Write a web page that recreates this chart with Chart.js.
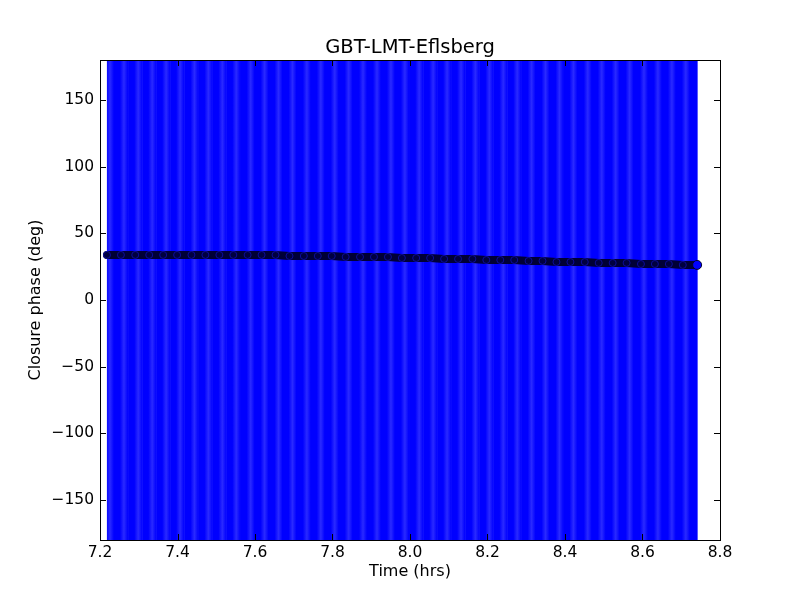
<!DOCTYPE html>
<html>
<head>
<meta charset="utf-8">
<script src="https://cdn.jsdelivr.net/npm/chart.js@4.4.0/dist/chart.umd.min.js"></script>
<style>
  html, body { margin: 0; padding: 0; background: #fff; }
  #wrap { width: 800px; height: 600px; }
</style>
</head>
<body>
<div id="wrap"><canvas id="cphase" width="800" height="600"></canvas></div>
<script>
// time of each closure phase point (hrs)
const times = [
  7.218, 7.254, 7.291, 7.327, 7.363, 7.399, 7.436, 7.472, 7.508, 7.544,
  7.581, 7.617, 7.653, 7.689, 7.726, 7.762, 7.798, 7.834, 7.871, 7.907,
  7.943, 7.979, 8.016, 8.052, 8.088, 8.124, 8.161, 8.197, 8.233, 8.269,
  8.306, 8.342, 8.378, 8.414, 8.451, 8.487, 8.523, 8.559, 8.596, 8.632,
  8.668, 8.704, 8.741
];
// closure phase (deg)
const phases = [
  33.8, 33.8, 33.8, 33.8, 33.8, 33.8, 33.8, 33.8, 33.8, 33.8,
  33.8, 33.8, 33.8, 33.0, 33.0, 33.0, 33.0, 32.3, 32.3, 32.3,
  32.3, 31.5, 31.5, 31.5, 30.8, 30.8, 30.8, 30.0, 30.0, 30.0,
  29.3, 29.3, 28.5, 28.5, 28.5, 27.8, 27.8, 27.8, 27.0, 27.0,
  27.0, 26.3, 26.3
];
// 1-sigma errors (deg) -- all far bigger than the plot range
const errors = [
  310, 305, 300, 320, 315, 300, 310, 305, 320, 300,
  310, 315, 305, 300, 320, 310, 305, 300, 315, 310,
  320, 305, 300, 310, 315, 305, 300, 320, 310, 305,
  300, 315, 310, 305, 320, 300, 310, 305, 315, 300,
  310, 320, 305
];

const xTicks = [7.2, 7.4, 7.6, 7.8, 8.0, 8.2, 8.4, 8.6, 8.8];
const yTicks = [-150, -100, -50, 0, 50, 100, 150];

const FONT = 'DejaVu Sans';
const TITLE = 'GBT-LMT-Eflsberg';

// error bars drawn below the markers
const errorBars = {
  id: 'errorBars',
  beforeDatasetsDraw(chart) {
    const ctx = chart.ctx;
    const xs = chart.scales.x, ys = chart.scales.y;
    const area = chart.chartArea;
    ctx.save();
    ctx.beginPath();
    ctx.rect(area.left, area.top, area.right - area.left, area.bottom - area.top);
    ctx.clip();
    const px = times.map(t => xs.getPixelForValue(t));
    for (let i = 0; i < times.length; i++) {
      const l = i === 0 ? px[i] : (px[i - 1] + px[i]) / 2;
      const r = i === times.length - 1 ? px[i] : (px[i] + px[i + 1]) / 2;
      const top = ys.getPixelForValue(phases[i] + errors[i]);
      const bot = ys.getPixelForValue(phases[i] - errors[i]);
      ctx.fillStyle = '#0000ff';
      ctx.fillRect(l, top, r - l + 0.5, bot - top);
    }
    // soft lighter bands where the bars pile up
    for (let i = 0; i < times.length - 1; i++) {
      const top = ys.getPixelForValue(phases[i] + errors[i]);
      const bot = ys.getPixelForValue(phases[i] - errors[i]);
      const c = px[i] + 3;
      const g = ctx.createLinearGradient(c - 4, 0, c + 4, 0);
      g.addColorStop(0, 'rgba(60,60,255,0)');
      g.addColorStop(0.5, 'rgba(60,60,255,0.7)');
      g.addColorStop(1, 'rgba(60,60,255,0)');
      ctx.fillStyle = g;
      ctx.fillRect(c - 4, top, 8, bot - top);
    }
    ctx.restore();
  }
};

// matplotlib style frame with inward ticks on all sides, title over the axes
const frameTicks = {
  id: 'frameTicks',
  afterDraw(chart) {
    const ctx = chart.ctx;
    const a = chart.chartArea;
    const xs = chart.scales.x, ys = chart.scales.y;
    ctx.save();
    ctx.strokeStyle = '#000';
    ctx.lineWidth = 1;
    ctx.beginPath();
    xTicks.forEach(v => {
      const x = Math.round(xs.getPixelForValue(v)) + 0.5;
      ctx.moveTo(x, a.bottom); ctx.lineTo(x, a.bottom - 6);
      ctx.moveTo(x, a.top); ctx.lineTo(x, a.top + 6);
    });
    yTicks.forEach(v => {
      const y = Math.round(ys.getPixelForValue(v)) + 0.5;
      ctx.moveTo(a.left, y); ctx.lineTo(a.left + 6, y);
      ctx.moveTo(a.right, y); ctx.lineTo(a.right - 6, y);
    });
    ctx.stroke();
    ctx.strokeRect(Math.round(a.left) + 0.5, Math.round(a.top) + 0.5,
      Math.round(a.right - a.left), Math.round(a.bottom - a.top));

    ctx.fillStyle = '#000';
    ctx.font = '19.5px "' + FONT + '"';
    ctx.textAlign = 'center';
    ctx.textBaseline = 'alphabetic';
    ctx.fillText(TITLE, (a.left + a.right) / 2, a.top - 7);
    ctx.restore();
  }
};

const pts = times.map((t, i) => ({ x: t, y: phases[i] }));
const last = times.length - 1;

new Chart(document.getElementById('cphase'), {
  type: 'scatter',
  data: {
    datasets: [{
      data: pts,
      showLine: true,
      borderColor: '#000036',
      borderWidth: 8,
      borderCapStyle: 'round',
      borderJoinStyle: 'round',
      pointRadius: times.map((t, i) => i === last ? 4.5 : 3.5),
      pointBackgroundColor: times.map((t, i) => i === last ? '#0000ff' : '#000040'),
      pointBorderColor: times.map((t, i) => i === last ? '#000030' : '#0c0c9a'),
      pointBorderWidth: 1
    }]
  },
  options: {
    responsive: false,
    animation: false,
    layout: { padding: { left: 22, right: 80, top: 60, bottom: 0 } },
    plugins: {
      legend: { display: false },
      tooltip: { enabled: false },
      title: { display: false }
    },
    scales: {
      x: {
        type: 'linear',
        min: 7.2, max: 8.8,
        afterBuildTicks: s => { s.ticks = xTicks.map(v => ({ value: v })); },
        afterFit: s => { s.height = 60; },
        grid: { display: false, drawTicks: false },
        border: { display: false },
        ticks: {
          color: '#000', padding: 4,
          font: { family: FONT, size: 15.5 },
          callback: v => v.toFixed(1)
        },
        title: {
          display: true, text: 'Time (hrs)', color: '#000',
          font: { family: FONT, size: 16, lineHeight: 1.2 },
          padding: { top: 2, bottom: 19 }
        }
      },
      y: {
        type: 'linear',
        min: -180, max: 180,
        afterBuildTicks: s => { s.ticks = yTicks.map(v => ({ value: v })); },
        afterFit: s => { s.width = 78; },
        grid: { display: false, drawTicks: false },
        border: { display: false },
        ticks: {
          color: '#000', padding: 6,
          font: { family: FONT, size: 15.5 },
          callback: v => String(v).replace('-', '\u2212')
        },
        title: {
          display: true, text: 'Closure phase (deg)', color: '#000',
          font: { family: FONT, size: 16, lineHeight: 1.2 },
          padding: { top: 4, bottom: 4 }
        }
      }
    }
  },
  plugins: [errorBars, frameTicks]
});
</script>
</body>
</html>
